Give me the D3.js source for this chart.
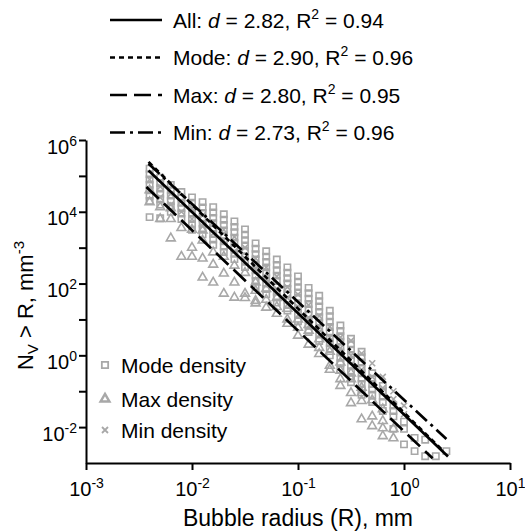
<!DOCTYPE html>
<html>
<head>
<meta charset="utf-8">
<script src="https://cdn.jsdelivr.net/npm/d3@7"></script>
<style>
  body { margin: 0; background: #fff; }
  text { font-family: "Liberation Sans", Arial, Helvetica, sans-serif; fill: #000; }
</style>
</head>
<body>
<div id="chart"></div>
<script>
// bubble radius bins, as log10(R in mm)
const binExp = [-2.4, -2.3, -2.2, -2.1, -2.0, -1.9, -1.8, -1.7, -1.6, -1.5,
                -1.4, -1.3, -1.2, -1.1, -1.0, -0.9, -0.8, -0.7, -0.6, -0.5,
                -0.4, -0.3, -0.2, -0.1, 0.0, 0.1, 0.2, 0.3, 0.4];

// log10(Nv > R) per bin
const modeExp = [
  [5.2, 5.05, 4.9, 4.75, 4.6, 4.45, 4.3, 3.85],
  [4.95, 4.8, 4.65, 4.5, 4.35, 4.2, 3.82],
  [4.75, 4.6, 4.45, 4.3, 4.15, 4.0],
  [4.55, 4.4, 4.25, 4.1, 3.95, 3.8],
  [4.4, 4.25, 4.1, 3.95, 3.8, 3.65, 3.5],
  [4.27, 4.12, 3.97, 3.82, 3.67, 3.52, 3.37],
  [4.13, 3.98, 3.83, 3.68, 3.53, 3.38, 3.23, 3.08],
  [3.93, 3.78, 3.63, 3.48, 3.33, 3.18, 3.03, 2.88],
  [3.73, 3.58, 3.43, 3.28, 3.13, 2.98, 2.83, 2.68],
  [3.51, 3.36, 3.21, 3.06, 2.91, 2.76, 2.61, 2.46],
  [3.12, 2.97, 2.82, 2.67, 2.52, 2.37, 2.22, 2.07, 1.92],
  [2.9, 2.75, 2.6, 2.45, 2.3, 2.15, 2.0, 1.85, 1.7],
  [2.67, 2.52, 2.37, 2.22, 2.07, 1.92, 1.77, 1.62, 1.47],
  [2.45, 2.3, 2.15, 2.0, 1.85, 1.7, 1.55, 1.4, 1.25],
  [2.2, 2.05, 1.9, 1.75, 1.6, 1.45, 1.3, 1.15, 0.95],
  [1.88, 1.73, 1.58, 1.43, 1.28, 1.13, 0.98, 0.83, 0.65],
  [1.66, 1.51, 1.36, 1.21, 1.06, 0.91, 0.76, 0.61, 0.4],
  [1.24, 1.09, 0.94, 0.79, 0.64, 0.49, 0.34, 0.19, 0.0],
  [0.83, 0.68, 0.53, 0.38, 0.23, 0.08, -0.07, -0.22, -0.4],
  [0.46, 0.31, 0.16, 0.01, -0.14, -0.29, -0.44, -0.6, -0.75],
  [0.1, -0.05, -0.2, -0.35, -0.5, -0.65, -0.8, -0.95, -1.1],
  [-0.5, -0.65, -0.8, -0.95, -1.1, -1.3],
  [-0.85, -1.0, -1.15, -1.3, -1.55],
  [-1.4, -1.55, -1.7, -2.05],
  [-1.85, -2.05, -2.48],
  [-2.3, -2.67],
  [-2.35, -2.81],
  [-2.81],
  [-2.67]
];

const maxExp = [
  [4.6, 4.27],
  [4.13, 3.8],
  [4.1, 3.8, 3.26],
  [3.55, 2.75],
  [3.5, 3.0, 2.75],
  [3.48, 3.2, 2.7, 2.17],
  [2.87, 2.53, 2.03],
  [2.75, 2.28, 1.72],
  [2.5, 2.03, 1.61],
  [2.3, 1.72, 1.6],
  [2.03, 1.8, 1.52, 1.45],
  [1.85, 1.55, 1.33],
  [1.6, 1.35, 1.16],
  [1.3, 1.0, 0.88],
  [1.0, 0.77, 0.55],
  [0.85, 0.69, 0.3],
  [0.45, 0.21, 0.04],
  [0.1, -0.29, -0.4],
  [-0.2, -0.43, -0.66, -0.85],
  [-0.5, -0.66, -1.05, -1.33],
  [-0.9, -1.05, -1.27, -1.78],
  [-1.25, -1.7, -1.97],
  [-1.5, -1.83, -2.03, -2.25],
  [-2.05, -2.31],
  [], [], [], [], []
];

const minExp = [
  [4.9, 4.6], [4.7, 4.4], [4.5, 4.2], [4.3, 4.0], [4.1, 3.8],
  [3.9, 3.6], [3.7, 3.4], [3.5, 3.2], [3.3, 2.9], [3.0, 2.7],
  [2.7, 2.4], [2.45, 2.1], [2.2, 1.85], [1.9, 1.6], [1.7, 1.35],
  [1.4, 1.05], [1.1, 0.8], [0.8, 0.5], [0.5, 0.2], [0.41, 0.0],
  [0.05, -0.4], [-0.22, -0.6], [-0.6, -0.91], [-1.0, -1.22], [-1.4, -1.64],
  [], [], [], []
];

// fitted power laws: end points [log10 R, log10 N]
const fitNames = ["All", "Mode", "Max", "Min"];
const fitD = ["2.82", "2.90", "2.80", "2.73"];
const fitR2 = ["0.94", "0.96", "0.95", "0.96"];
const fitEnds = [
  [[-2.41, 5.15], [0.415, -2.82]],
  [[-2.41, 5.39], [0.36, -2.64]],
  [[-2.43, 4.69], [0.27, -2.87]],
  [[-2.41, 5.34], [0.40, -2.33]]
];

const seriesNames = ["Mode density", "Max density", "Min density"];
const xTicks = [1e-3, 1e-2, 1e-1, 1e0, 1e1];
const yTicks = [1e-2, 1e-1, 1e0, 1e1, 1e2, 1e3, 1e4, 1e5, 1e6];
const yLabelled = [-2, 0, 2, 4, 6];

// ---- drawing ----
const W = 525, H = 532;
const plot = { left: 86, right: 510, top: 140, bottom: 463 };
const gray = "#a8a8a8";
const dashes = [null, "5,4", "17,7", "15,5,3,5"];

const svg = d3.select("#chart").append("svg")
    .attr("width", W)
    .attr("height", H);

const x = d3.scaleLog().domain([1e-3, 1e1]).range([plot.left, plot.right]);
const y = d3.scaleLog().domain([1e-3, 1e6]).range([plot.bottom, plot.top]);

// flatten the columns into points
function toPoints(cols) {
    const pts = [];
    cols.forEach((col, i) => col.forEach(e => pts.push({ r: Math.pow(10, binExp[i]), n: Math.pow(10, e) })));
    return pts;
}
const modePts = toPoints(modeExp);
const maxPts = toPoints(maxExp);
const minPts = toPoints(minExp);

const square = d3.symbol().type(d3.symbolSquare).size(40);
const triangle = d3.symbol().type(d3.symbolTriangle).size(34);
const cross = "M-3,-3L3,3M-3,3L3,-3";

const marks = svg.append("g")
    .attr("fill", "none")
    .attr("stroke", gray)
    .attr("stroke-width", 1.6);

marks.selectAll(".mode").data(modePts).enter().append("path")
    .attr("class", "mode")
    .attr("d", square)
    .attr("transform", d => `translate(${x(d.r)},${y(d.n)})`);

marks.selectAll(".minp").data(minPts).enter().append("path")
    .attr("class", "minp")
    .attr("d", cross)
    .attr("transform", d => `translate(${x(d.r)},${y(d.n)})`);

marks.selectAll(".maxp").data(maxPts).enter().append("path")
    .attr("class", "maxp")
    .attr("d", triangle)
    .attr("transform", d => `translate(${x(d.r)},${y(d.n)})`);

// fit lines
const line = d3.line()
    .x(d => x(Math.pow(10, d[0])))
    .y(d => y(Math.pow(10, d[1])));

svg.append("g").selectAll("path").data(fitEnds).enter().append("path")
    .attr("d", line)
    .attr("fill", "none")
    .attr("stroke", "#000")
    .attr("stroke-width", 2.7)
    .attr("stroke-dasharray", (d, i) => dashes[i]);

// axes
function powLabel(sel, fontSize, supSize) {
    sel.each(function (d) {
        const t = d3.select(this);
        const e = Math.round(Math.log10(d));
        t.text(null);
        t.append("tspan").text("10");
        t.append("tspan").attr("dy", -8).attr("font-size", supSize).text(e < 0 ? "-" + (-e) : e);
    });
    sel.attr("font-size", fontSize);
}

const xAxis = d3.axisBottom(x).tickValues(xTicks).tickSize(7).tickSizeOuter(0);
const gx = svg.append("g")
    .attr("transform", `translate(0,${plot.bottom})`)
    .call(xAxis);
gx.selectAll("text").attr("y", 33).attr("dy", 0).call(powLabel, 20, 14);

const yAxis = d3.axisLeft(y).tickValues(yTicks).tickSize(7).tickSizeOuter(0);
const gy = svg.append("g")
    .attr("transform", `translate(${plot.left},0)`)
    .call(yAxis);
gy.selectAll(".tick text")
    .filter(d => !yLabelled.includes(Math.round(Math.log10(d))))
    .remove();
gy.selectAll(".tick text").attr("x", -9).attr("dy", 13).call(powLabel, 20, 14);

[gx, gy].forEach(g => {
    g.selectAll("path, line").attr("stroke", "#000").attr("stroke-width", 2);
    g.selectAll("text").attr("fill", "#000").attr("font-family", null);
});

// axis titles
svg.append("text")
    .attr("x", (plot.left + plot.right) / 2)
    .attr("y", 526)
    .attr("text-anchor", "middle")
    .attr("font-size", 23)
    .text("Bubble radius (R), mm");

const yt = svg.append("text")
    .attr("transform", `translate(33,${(plot.top + plot.bottom) / 2 + 4}) rotate(-90)`)
    .attr("text-anchor", "middle")
    .attr("font-size", 22);
yt.append("tspan").text("N");
yt.append("tspan").attr("font-size", 15).attr("dy", 5).text("V");
yt.append("tspan").attr("dy", -5).text(" > R, mm");
yt.append("tspan").attr("font-size", 15).attr("dy", -9).text("-3");

// top legend (fit lines)
const leg = svg.append("g");
fitNames.forEach((name, i) => {
    const cy = 20 + i * 37.5;
    leg.append("line")
        .attr("x1", 110).attr("x2", 162)
        .attr("y1", cy).attr("y2", cy)
        .attr("stroke", "#000")
        .attr("stroke-width", 2.7)
        .attr("stroke-dasharray", dashes[i]);
    const t = leg.append("text")
        .attr("x", 173)
        .attr("y", cy + 7.5)
        .attr("font-size", 21);
    t.append("tspan").text(name + ": ");
    t.append("tspan").attr("font-style", "italic").text("d");
    t.append("tspan").text(" = " + fitD[i] + ", R");
    t.append("tspan").attr("font-size", 14).attr("dy", -9).text("2");
    t.append("tspan").attr("dy", 9).text(" = " + fitR2[i]);
});

// symbol legend (bottom left)
const symLeg = svg.append("g");
const symRowY = [365, 399, 430];
seriesNames.forEach((name, i) => {
    const g = symLeg.append("g").attr("transform", `translate(105,${symRowY[i]})`);
    g.append("path")
        .attr("d", i === 0 ? square() : i === 1 ? triangle() : cross)
        .attr("fill", "none")
        .attr("stroke", gray)
        .attr("stroke-width", i === 1 ? 2.4 : 1.8);
    symLeg.append("text")
        .attr("x", 121)
        .attr("y", symRowY[i] + 7.5)
        .attr("font-size", 21)
        .text(name);
});
</script>
</body>
</html>
